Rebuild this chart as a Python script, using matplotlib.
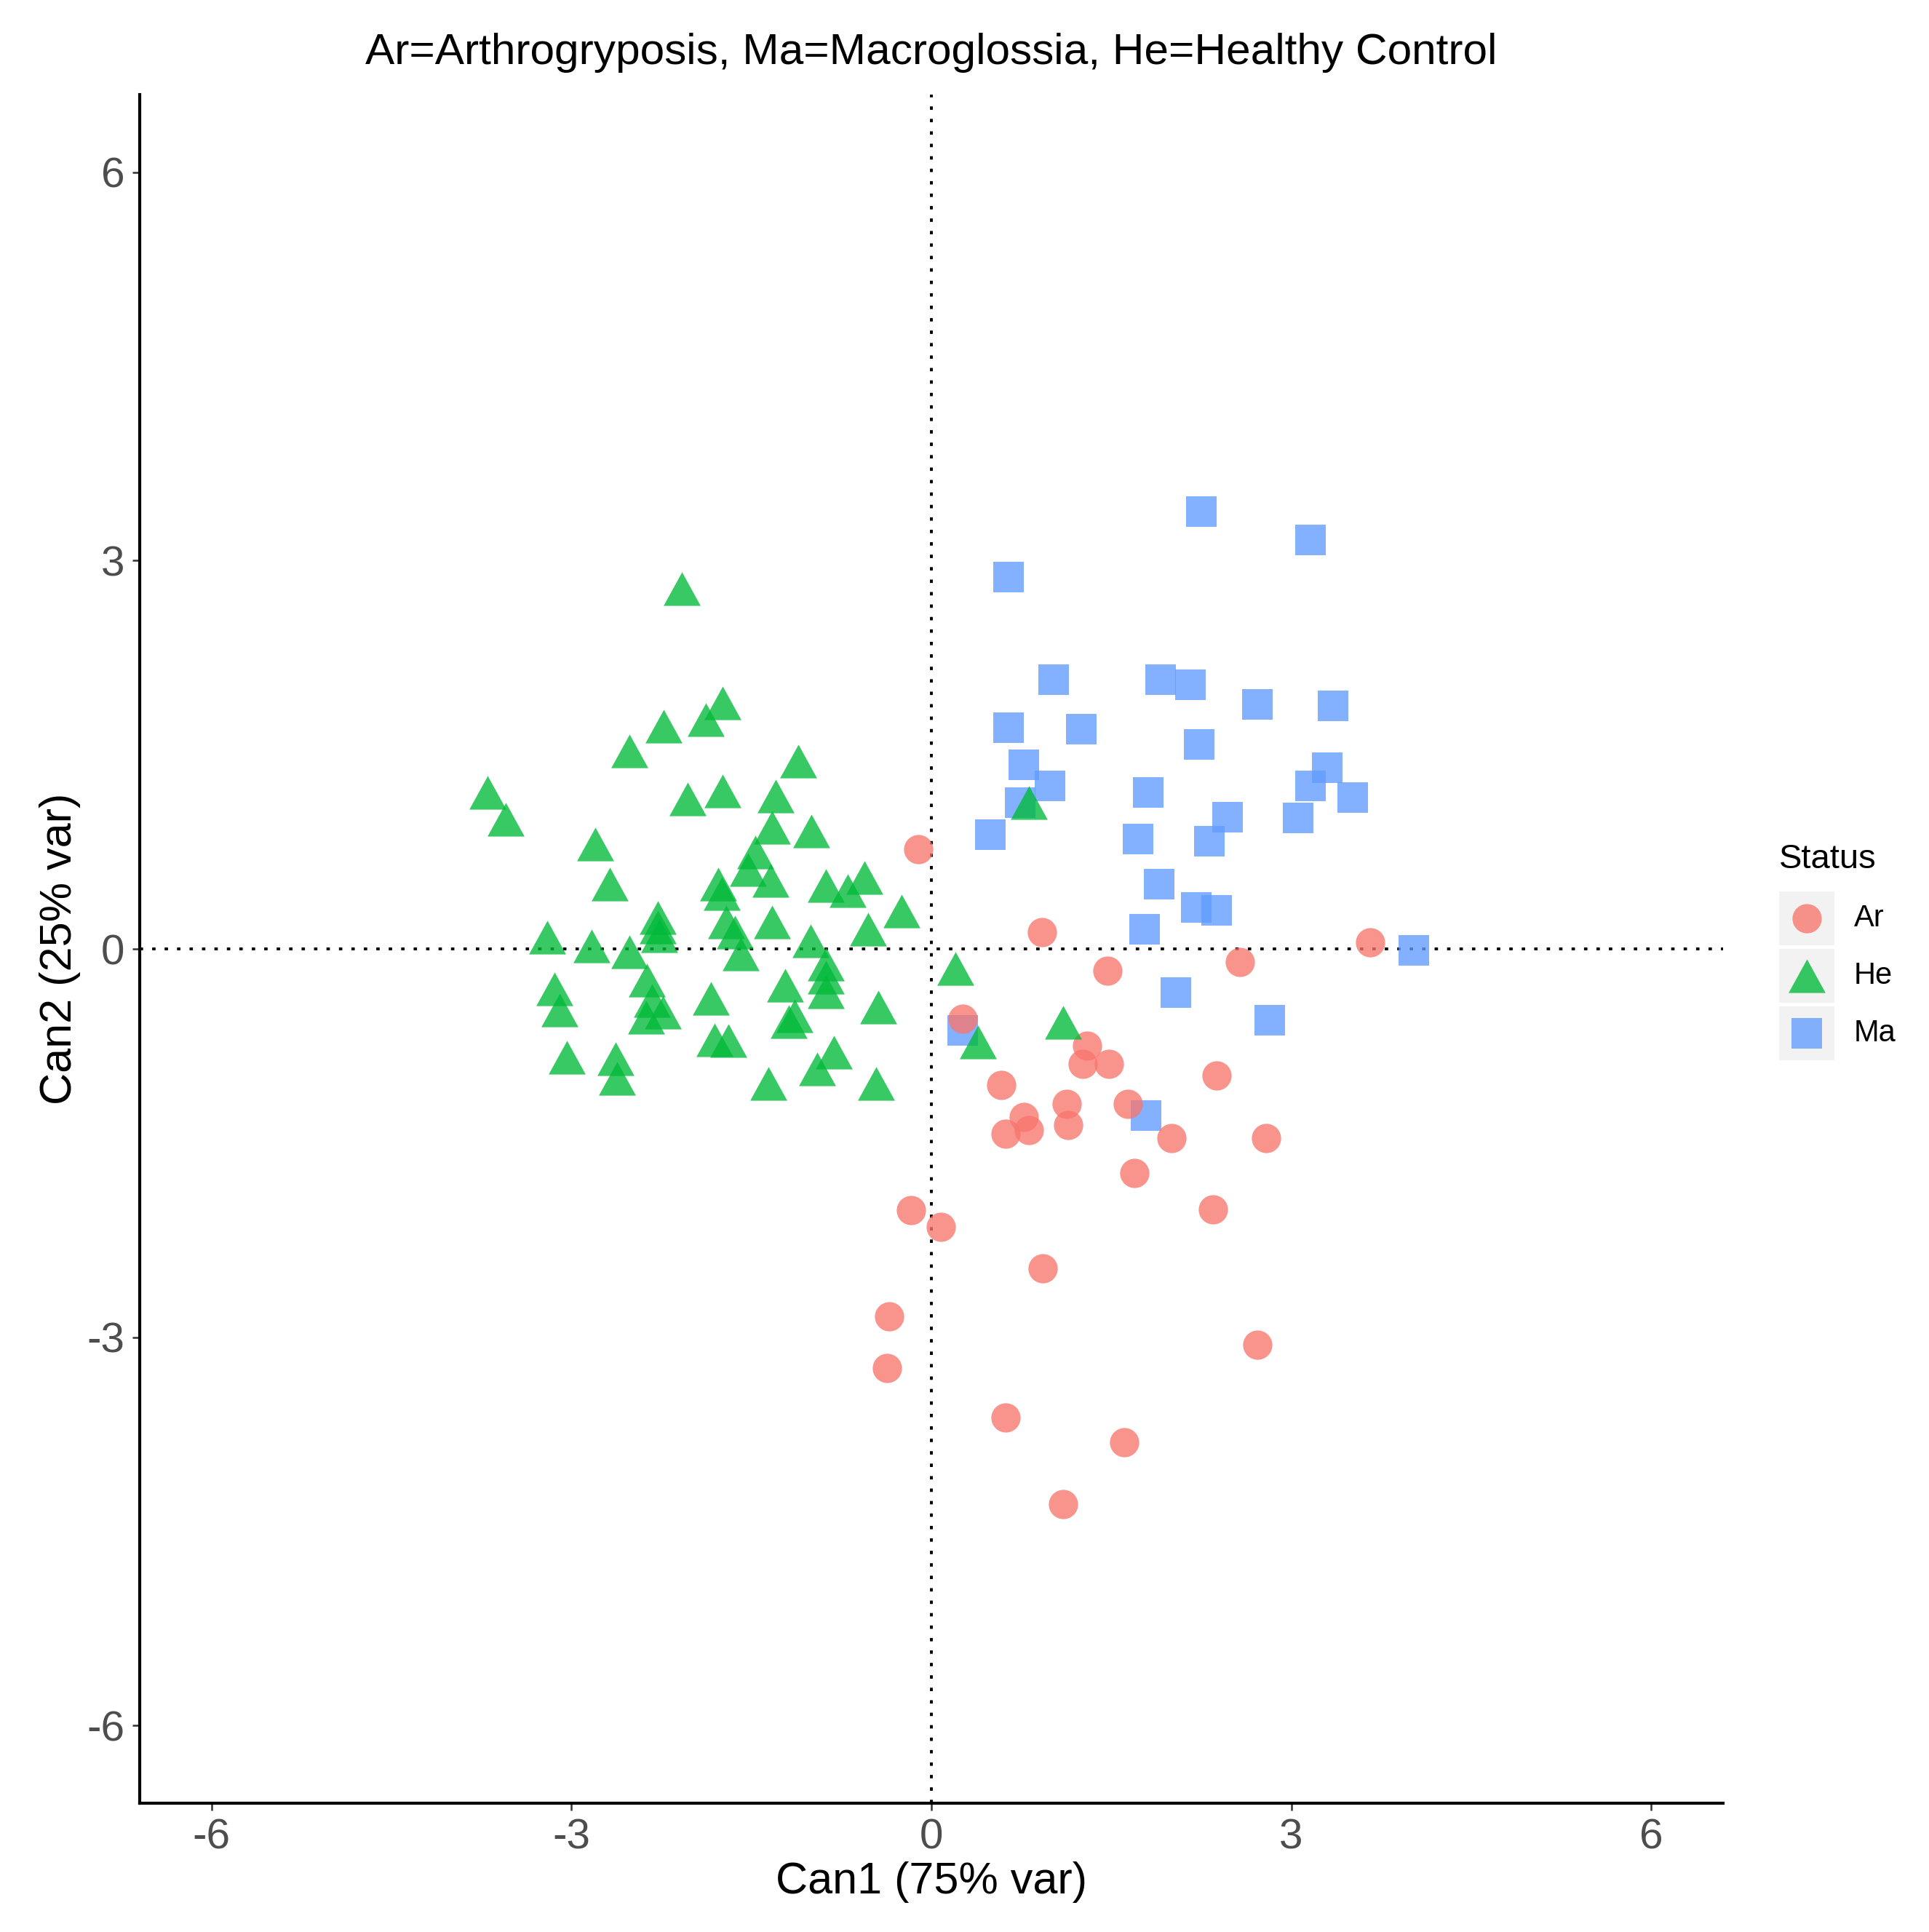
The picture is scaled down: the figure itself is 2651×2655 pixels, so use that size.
import numpy as np
import matplotlib
matplotlib.use("Agg")
import matplotlib.pyplot as plt
from matplotlib.path import Path
from matplotlib.patches import Rectangle

plt.rcParams['font.family'] = ['Liberation Sans', 'DejaVu Sans']

# --- data (Can1, Can2) ---
ar_x = [-0.11, 0.92, 3.66, 1.47, 2.57, 0.26, 1.30, 1.26, 1.48, 2.38,
        0.58, 1.13, 0.77, 1.64, 0.62, 0.81, 1.14, 2.00, 2.79, 1.69,
        -0.17, 0.08, 2.35, 0.93, -0.35, -0.37, 2.72, 0.62, 1.61, 1.10]
ar_y = [0.77, 0.13, 0.05, -0.17, -0.10, -0.54, -0.75, -0.89, -0.89, -0.98,
        -1.05, -1.20, -1.30, -1.20, -1.43, -1.40, -1.36, -1.46, -1.46, -1.73,
        -2.02, -2.15, -2.01, -2.47, -2.84, -3.24, -3.06, -3.62, -3.81, -4.29]

he_x = [-2.08, -1.74, -1.88, -2.23, -2.52, -1.11, -2.03, -1.74, -1.30, -3.70,
        -3.55, -1.33, -1.00, -2.80, -2.68, -1.47, -1.53, -1.34, -1.78, -1.75,
        -0.88, -0.70, -0.56, -0.25, -2.28, -2.28, -2.27, -3.20, -2.83, -2.52,
        -1.71, -1.64, -1.59, -1.33, -1.01, -0.53, -0.88, -0.88, -0.88, -2.37,
        -2.33, -2.24, -2.38, -3.14, -3.10, -3.04, -2.63, -2.62, -1.22, -1.84,
        -1.14, -1.19, -0.44, -1.81, -1.69, -0.81, -0.95, -1.36, -0.46, 0.20,
        0.39, 1.10, 0.81]
he_y = [2.78, 1.90, 1.77, 1.72, 1.53, 1.45, 1.16, 1.22, 1.18, 1.21,
        1.00, 0.94, 0.91, 0.81, 0.50, 0.75, 0.61, 0.53, 0.50, 0.43,
        0.49, 0.45, 0.55, 0.29, 0.24, 0.17, 0.10, 0.09, 0.02, -0.02,
        0.21, 0.13, -0.04, 0.21, 0.06, 0.15, -0.12, -0.22, -0.33, -0.24,
        -0.40, -0.49, -0.53, -0.31, -0.47, -0.84, -0.85, -1.00, -0.28, -0.38,
        -0.52, -0.56, -0.45, -0.70, -0.71, -0.80, -0.93, -1.04, -1.04, -0.15,
        -0.72, -0.57, 1.13]

ma_x = [2.25, 3.16, 0.64, 1.02, 1.91, 2.16, 2.72, 3.35, 0.64, 1.25,
        2.23, 0.77, 0.99, 3.30, 3.16, 3.51, 0.74, 1.81, 0.49, 2.47,
        3.06, 1.72, 2.32, 1.90, 1.78, 2.21, 2.38, 4.02, 2.04, 2.82,
        0.26, 1.79]
ma_y = [3.38, 3.16, 2.87, 2.08, 2.08, 2.04, 1.89, 1.88, 1.71, 1.70,
        1.58, 1.42, 1.26, 1.40, 1.26, 1.17, 1.13, 1.21, 0.88, 1.02,
        1.01, 0.85, 0.83, 0.50, 0.15, 0.32, 0.30, -0.01, -0.34, -0.55,
        -0.63, -1.29]

groups = ['Ar', 'He', 'Ma']
ticks = [-6, -3, 0, 3, 6]

col_ar = '#F8766D'
col_he = '#00BA38'
col_ma = '#619CFF'
alpha = 0.78

tri = Path([(0, 1), (-1.1, -1), (1.1, -1), (0, 1)],
           [Path.MOVETO, Path.LINETO, Path.LINETO, Path.CLOSEPOLY])
s_ar, s_he, s_ma = 840, 1340, 920

W, H = 2651, 2655
fig = plt.figure(figsize=(W / 100, H / 100), dpi=100)
ax = fig.add_axes([192 / W, 1 - 2478 / H, (2368 - 192) / W, (2478 - 130) / H])

ax.axhline(0, color='black', lw=2.8, ls=(0, (1.2, 3.2)), zorder=1)
ax.axvline(0, color='black', lw=2.8, ls=(0, (1.2, 3.2)), zorder=1)

ax.scatter(ma_x, ma_y, s=s_ma, marker='s', color=col_ma, alpha=alpha, linewidths=0, zorder=2)
ax.scatter(ar_x, ar_y, s=s_ar, marker='o', color=col_ar, alpha=alpha, linewidths=0, zorder=3)
ax.scatter(he_x, he_y, s=s_he, marker=tri, color=col_he, alpha=alpha, linewidths=0, zorder=4)

ax.set_xlim(-6.6, 6.6)
ax.set_ylim(-6.6, 6.6)
ax.set_xticks(ticks)
ax.set_yticks(ticks)
ax.set_xticklabels([str(t) for t in ticks])
ax.set_yticklabels([str(t) for t in ticks])
ax.tick_params(axis='both', labelsize=42, labelcolor='#4D4D4D', length=7,
               width=1.8, color='#333333', pad=8)
for side in ['top', 'right']:
    ax.spines[side].set_visible(False)
for side in ['left', 'bottom']:
    ax.spines[side].set_linewidth(3.0)
    ax.spines[side].set_color('black')

ax.set_xlabel('Can1 (75% var)', fontsize=44, labelpad=4)
ax.set_ylabel('Can2 (25% var)', fontsize=44, labelpad=6)

fig.text(1280 / W, 1 - 73 / H, 'Ar=Arthrogryposis, Ma=Macroglossia, He=Healthy Control',
         ha='center', va='center', fontsize=43.5)

# legend drawn by hand, ggplot style (grey key boxes)
lax = fig.add_axes([0, 0, 1, 1])
lax.set_xlim(0, W)
lax.set_ylim(H, 0)
lax.axis('off')
lax.text(2445, 1193, 'Status', fontsize=34, ha='left', va='baseline')
key_cols = [col_ar, col_he, col_ma]
key_marks = ['o', tri, 's']
key_sizes = [s_ar, s_he, s_ma]
key_top = [1225, 1304, 1383]
for g, c, m, sz, top in zip(groups, key_cols, key_marks, key_sizes, key_top):
    lax.add_patch(Rectangle((2445, top), 76, 74, facecolor='#F2F2F2', edgecolor='none'))
    lax.scatter([2483], [top + 37], s=sz, marker=m, color=c, alpha=alpha, linewidths=0)
    lax.text(2548, top + 37, g, fontsize=30, ha='left', va='center')

fig.savefig('out.png', dpi=100)
